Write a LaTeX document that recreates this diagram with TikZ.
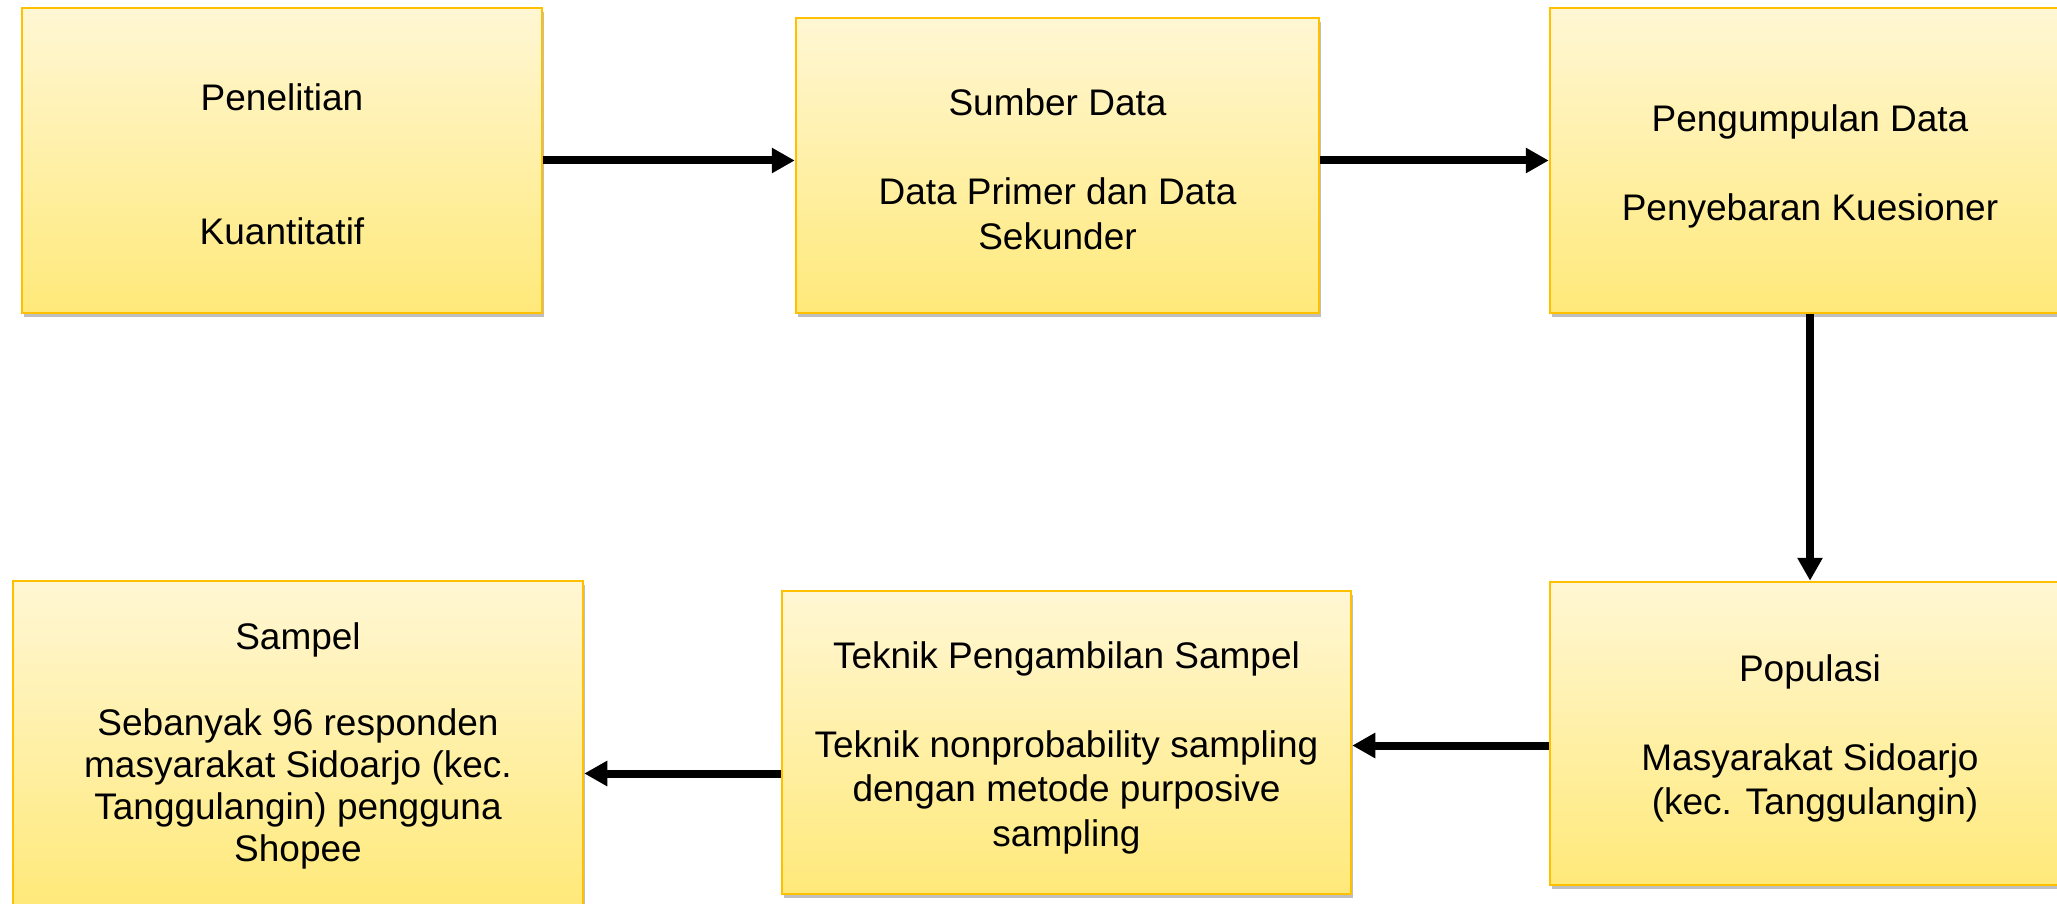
\documentclass[tikz,border=0pt]{standalone}
\usepackage{fontspec}
\setmainfont{Liberation Sans}
\usetikzlibrary{arrows.meta,shadows}
\definecolor{boxtop}{RGB}{255,247,212}
\definecolor{boxbot}{RGB}{255,233,122}
\definecolor{boxline}{RGB}{255,192,0}
\tikzset{
  flowbox/.style={draw=boxline, line width=2.5pt, top color=boxtop, bottom color=boxbot,
    inner sep=0pt,
    drop shadow={shadow xshift=2pt, shadow yshift=-4pt, opacity=0.25, fill=black}},
  flowtext/.style={align=center, inner sep=0pt, font=\fontsize{37}{44.5}\selectfont},
  flowarrow/.style={line width=8pt, -{Triangle[length=23pt,width=24pt]}, black}
}
\begin{document}
\begin{tikzpicture}[x=1pt,y=-1pt]
\useasboundingbox (0,0) rectangle (2057,904);
\clip (0,0) rectangle (2057,904);
\fill[white] (0,0) rectangle (2057,904);
\node[flowbox, minimum width=520pt, minimum height=305pt] (b1) at (282,160.5) {};
\node[flowbox, minimum width=523pt, minimum height=295pt] (b2) at (1057.5,165.5) {};
\node[flowbox, minimum width=520pt, minimum height=305pt] (b3) at (1810,160.5) {};
\node[flowbox, minimum width=520pt, minimum height=303pt] (b6) at (1810,733.5) {};
\node[flowbox, minimum width=569pt, minimum height=303pt] (b5) at (1066.5,742.5) {};
\node[flowbox, minimum width=570pt, minimum height=325pt] (b4) at (298,743.5) {};
\node[flowtext] (t1) at ([yshift=-4pt]b1.center) {Penelitian\\[89pt]Kuantitatif};
\node[flowtext] (t2) at ([yshift=-4pt]b2.center) {Sumber Data\\[44.5pt]Data Primer dan Data\\Sekunder};
\node[flowtext] (t3) at ([yshift=-6pt]b3.center) {Pengumpulan Data\\[44.5pt]Penyebaran Kuesioner};
\node[flowtext] (t6) at ([yshift=-5pt]b6.center) {Populasi\\[44.5pt]Masyarakat Sidoarjo\\\hspace*{10pt}(kec. Tanggulangin)};
\node[flowtext] (t5) at ([yshift=-5pt]b5.center) {Teknik Pengambilan Sampel\\[44.5pt]Teknik nonprobability sampling\\dengan metode purposive\\sampling};
\node[flowtext, font=\fontsize{37}{42}\selectfont] (t4) at ([yshift=-2pt]b4.center) {Sampel\\[44pt]Sebanyak 96 responden\\masyarakat Sidoarjo (kec.\\Tanggulangin) pengguna\\Shopee};
\draw[flowarrow] (b1.east) -- (b1.east -| b2.west);
\draw[flowarrow] (b3.west -| b2.east) -- (b3.west);
\draw[flowarrow] (b3.south) -- (b6.north);
\draw[flowarrow] ([yshift=-3pt]b5.east -| b6.west) -- ([yshift=-3pt]b5.east);
\draw[flowarrow] ([yshift=-31pt]b5.west) -- ([yshift=-31pt]b5.west -| b4.east);
\end{tikzpicture}
\end{document}
